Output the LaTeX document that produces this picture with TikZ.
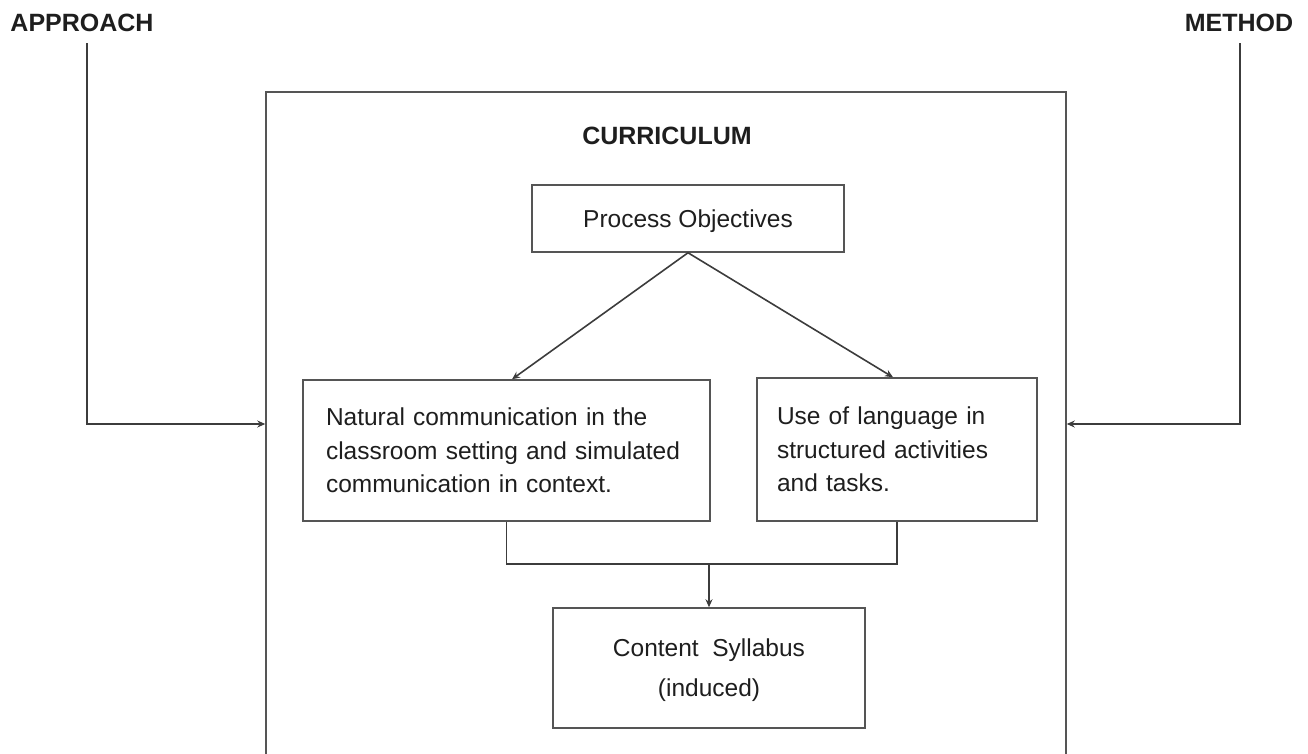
\documentclass[tikz,border=0pt]{standalone}
\usepackage{fontspec}
\setmainfont{Liberation Sans}
\usetikzlibrary{arrows.meta,calc}
\definecolor{ln}{HTML}{3C3C3C}
\definecolor{bx}{HTML}{555555}
\definecolor{tx}{HTML}{1E1E1E}
\tikzset{
  boxnode/.style={draw=bx, line width=1.5pt, rectangle, inner ysep=0pt, text=tx,
    font=\fontsize{24.5}{33.5}\selectfont},
  conn/.style={draw=ln, line width=1.6pt},
  arr/.style={conn, -{Stealth[length=8pt,width=7pt]}},
  headlabel/.style={font=\bfseries\fontsize{25}{30}\selectfont, text=tx, inner sep=0pt}
}
\begin{document}
\begin{tikzpicture}[x=1pt,y=-1pt]
\useasboundingbox (0,0) rectangle (1308,753);
% outer curriculum frame (bottom edge off the page)
\node[draw=bx, line width=1.5pt, minimum width=800, minimum height=700, inner sep=0pt] (curr) at (666,442) {};
\node[headlabel] (currlabel) at (667,136) {CURRICULUM};
% side labels
\node[headlabel] (approach) at (82,23) {APPROACH};
\node[headlabel] (method) at (1239,23) {METHOD};
% boxes
\node[boxnode, minimum width=312, minimum height=67, inner xsep=0pt, text depth=0pt] (proc) at (688,218.5) {Process Objectives};
\node[boxnode, minimum height=141, inner xsep=23pt, text width=361pt, align=left] (left) at (506.5,450.5)
  {Natural communication in the\\classroom setting and simulated\\communication in context.};
\node[boxnode, minimum height=143, inner xsep=20pt, text width=240pt, align=left] (right) at (897,449.5)
  {Use of language in\\structured activities\\and tasks.};
\node[boxnode, minimum width=312, minimum height=120, inner xsep=0pt, align=center, text depth=0pt,
  font=\fontsize{24.5}{40}\selectfont] (content) at (709,668)
  {Content\ \ Syllabus\\(induced)};
% connectors
\draw[arr] (proc.south) -- ([xshift=5.5pt]left.north);
\draw[arr] (proc.south) -- ([xshift=-4pt]right.north);
\coordinate (m) at (709,564);
\draw[conn] (left.south) |- (m) -| (right.south);
\draw[arr] (m) -- (content.north);
\coordinate (a1) at (87,43);
\coordinate (a2) at (87,424);
\draw[arr] (a1) -- (a2) -- (a2 -| curr.west);
\coordinate (b1) at (1240,43);
\coordinate (b2) at (1240,424);
\draw[arr] (b1) -- (b2) -- (b2 -| curr.east);
\end{tikzpicture}
\end{document}
